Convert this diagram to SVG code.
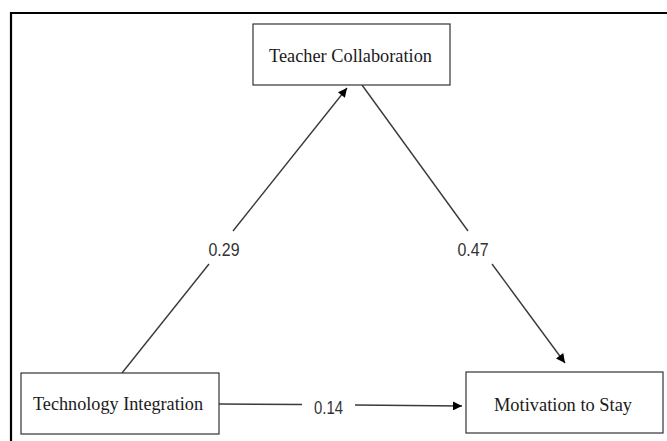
<svg xmlns="http://www.w3.org/2000/svg" width="667" height="441" viewBox="0 0 667 441">
  <style>
    .box { fill: #ffffff; stroke: #333333; stroke-width: 1.2; }
    .ntext { font-family: "Liberation Serif", "Times New Roman", serif; font-size: 19px; fill: #1a1a1a; text-anchor: middle; }
    .edge { fill: none; stroke: #3a3a3a; stroke-width: 1.4; }
    .elabel { font-family: "Liberation Sans", Arial, sans-serif; font-size: 18px; fill: #333333; text-anchor: middle; }
  </style>
  <defs>
    <marker id="arrow" viewBox="0 0 10 10" refX="10" refY="5" markerWidth="11" markerHeight="9" markerUnits="userSpaceOnUse" orient="auto">
      <path d="M0,0 L10,5 L0,10 Z" fill="#000000"/>
    </marker>
  </defs>
  <rect width="667" height="441" fill="#ffffff"/>
  <path d="M11,441 V13 H667" fill="none" stroke="#000000" stroke-width="2.2"/>

  <g id="connectors">
    <g id="edge-tech-teacher">
      <line class="edge" x1="122" y1="373" x2="209" y2="264"/>
      <line class="edge" x1="233" y1="231" x2="347" y2="88" marker-end="url(#arrow)"/>
      <text class="elabel" x="224" y="256" textLength="31" lengthAdjust="spacingAndGlyphs">0.29</text>
    </g>
    <g id="edge-teacher-motivation">
      <line class="edge" x1="362" y1="85" x2="468" y2="231"/>
      <line class="edge" x1="492" y1="264" x2="565" y2="363" marker-end="url(#arrow)"/>
      <text class="elabel" x="473" y="256" textLength="31" lengthAdjust="spacingAndGlyphs">0.47</text>
    </g>
    <g id="edge-tech-motivation">
      <line class="edge" x1="219" y1="404" x2="302" y2="404.5"/>
      <line class="edge" x1="355" y1="405" x2="462" y2="406" marker-end="url(#arrow)"/>
      <text class="elabel" x="328.5" y="414" textLength="29" lengthAdjust="spacingAndGlyphs">0.14</text>
    </g>
  </g>

  <g id="node-teacher">
    <rect class="box" x="253" y="24" width="197" height="61"/>
    <text class="ntext" x="350.5" y="62" textLength="163" lengthAdjust="spacingAndGlyphs">Teacher Collaboration</text>
  </g>
  <g id="node-tech">
    <rect class="box" x="21" y="373" width="198" height="61"/>
    <text class="ntext" x="118" y="410" textLength="170" lengthAdjust="spacingAndGlyphs">Technology Integration</text>
  </g>
  <g id="node-motivation">
    <rect class="box" x="466" y="372" width="197" height="61"/>
    <text class="ntext" x="563" y="411" textLength="138" lengthAdjust="spacingAndGlyphs">Motivation to Stay</text>
  </g>
</svg>
